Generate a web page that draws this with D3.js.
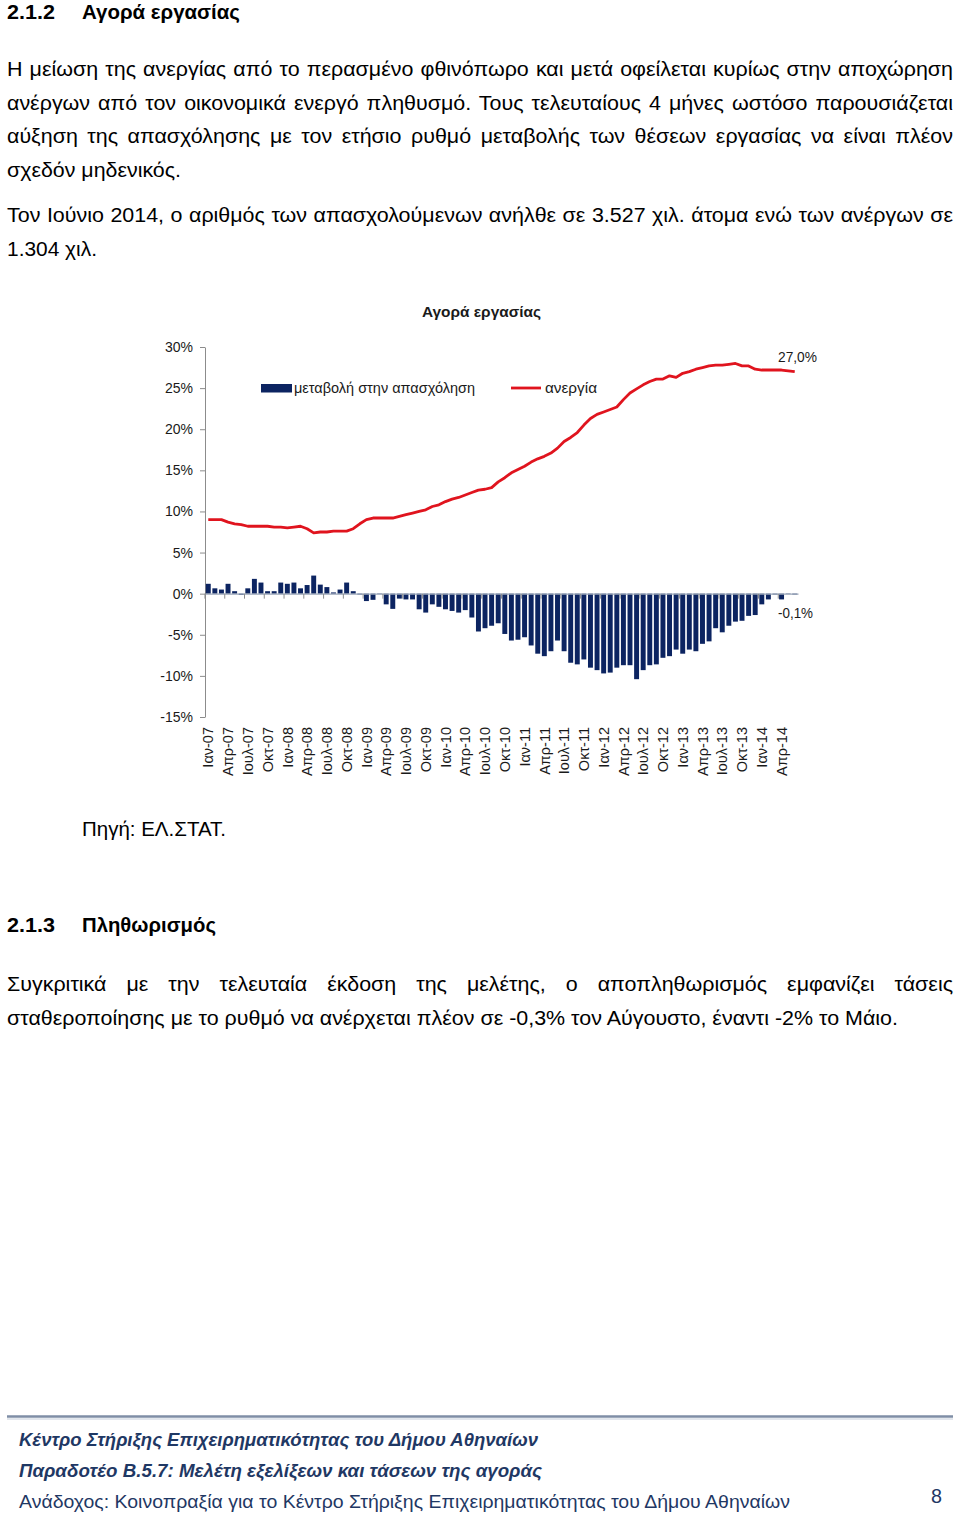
<!DOCTYPE html>
<html><head><meta charset="utf-8">
<script src="https://cdn.jsdelivr.net/npm/d3@7"></script>
<style>body{margin:0;background:#fff}svg{display:block}</style>
</head><body>
<script>
// ---------- DATA ----------
const monthNames = ["Ιαν","Φεβ","Μαρ","Απρ","Μαϊ","Ιουν","Ιουλ","Αυγ","Σεπ","Οκτ","Νοε","Δεκ"];
const years = ["07","08","09","10","11","12","13","14"];
const categories = years.flatMap(y => monthNames.map(m => m + "-" + y)).slice(0, 90); // Ιαν-07 .. Ιουν-14

// μεταβολή στην απασχόληση (% ετήσια)
const employment = [
  1.2, 0.65, 0.5, 1.2, 0.3, -0.15, 0.65, 1.8, 1.35, 0.3, 0.3, 1.35,
  1.2, 1.35, 0.65, 1.05, 2.2, 1.1, 0.8, 0.15, 0.5, 1.35, 0.3, -0.1,
  -0.9, -0.75, -0.05, -1.3, -1.85, -0.6, -0.7, -0.7, -1.9, -2.3, -1.3, -1.6,
  -1.9, -2.1, -2.3, -2.0, -2.9, -4.6, -4.2, -3.9, -3.6, -4.9, -5.7, -5.6,
  -5.3, -6.3, -7.3, -7.6, -7.0, -5.7, -7.0, -8.4, -8.6, -8.0, -9.0, -9.3,
  -9.7, -9.6, -9.0, -8.7, -8.7, -10.4, -9.3, -8.7, -8.6, -7.8, -7.6, -6.8,
  -7.3, -6.8, -7.0, -6.1, -5.8, -4.2, -4.7, -3.9, -3.4, -3.3, -2.7, -2.6,
  -1.3, -0.7, -0.1, -0.7, -0.05, -0.1
];
// ανεργία (%)
const unemployment = [
  9.0, 9.0, 9.0, 8.7, 8.5, 8.4, 8.2, 8.2, 8.2, 8.2, 8.1, 8.1,
  8.0, 8.1, 8.2, 7.9, 7.4, 7.5, 7.5, 7.6, 7.6, 7.6, 7.9, 8.5,
  9.0, 9.2, 9.2, 9.2, 9.2, 9.4, 9.6, 9.8, 10.0, 10.2, 10.6, 10.8,
  11.2, 11.5, 11.7, 12.0, 12.3, 12.6, 12.7, 12.9, 13.6, 14.1, 14.7, 15.1,
  15.5, 16.0, 16.4, 16.7, 17.1, 17.7, 18.5, 19.0, 19.6, 20.5, 21.3, 21.8,
  22.1, 22.4, 22.7, 23.6, 24.4, 24.9, 25.4, 25.8, 26.1, 26.1, 26.5, 26.3,
  26.8, 27.0, 27.3, 27.5, 27.7, 27.8, 27.8, 27.9, 28.0, 27.7, 27.7, 27.3,
  27.2, 27.2, 27.2, 27.2, 27.1, 27.0
];
const yTicks = [30, 25, 20, 15, 10, 5, 0, -5, -10, -15];
const xTickLabels = categories.filter((d, i) => i % 3 === 0);
const seriesNames = ["μεταβολή στην απασχόληση", "ανεργία"];
const chartTitle = "Αγορά εργασίας";
const lastLabels = ["27,0%", "-0,1%"];

// ---------- PAGE ----------
const W = 960, H = 1520;
const FONT = "'Liberation Sans', Arial, sans-serif";
const svg = d3.select("body").append("svg").attr("width", W).attr("height", H);

function txt(str, x, y, o = {}) {
  const t = svg.append("text").attr("x", x).attr("y", y).text(str)
    .style("font-family", FONT).style("font-size", (o.size || 19.5) + "px")
    .style("font-weight", o.weight || "normal").style("font-style", o.style || "normal")
    .attr("fill", o.fill || "#000");
  if (o.anchor) t.attr("text-anchor", o.anchor);
  if (o.justify) {
    const nat = t.node().getComputedTextLength();
    const spaces = (str.match(/ /g) || []).length;
    const c = o.c || 1;
    const ws = (o.width / c - nat) / spaces;
    if (ws > 0) t.style("word-spacing", ws + "px");
  }
  if (o.width) t.attr("textLength", o.width).attr("lengthAdjust", "spacingAndGlyphs");
  return t;
}

// condense factor from a reference (non-justified) line
const probe = svg.append("text").text("σταθεροποίησης με το ρυθμό να ανέρχεται πλέον σε -0,3% τον Αύγουστο, έναντι -2% το Μάιο.")
  .style("font-family", FONT).style("font-size", "19.5px");
const C = 891 / probe.node().getComputedTextLength();
probe.remove();

// Heading 2.1.2
txt("2.1.2", 7, 18.5, {size: 20.5, weight: "bold", width: 48});
txt("Αγορά εργασίας", 82, 18.5, {size: 20.5, weight: "bold", width: 158});

const para1 = [
  "Η μείωση της ανεργίας από το περασμένο φθινόπωρο και μετά οφείλεται κυρίως στην αποχώρηση",
  "ανέργων από τον οικονομικά ενεργό πληθυσμό. Τους τελευταίους 4 μήνες ωστόσο παρουσιάζεται",
  "αύξηση της απασχόλησης με τον ετήσιο ρυθμό μεταβολής των θέσεων εργασίας να είναι πλέον"
];
const para1Y = [76, 110, 143];
para1.forEach((s, i) => txt(s, 7, para1Y[i], {width: 946, justify: true, c: C}));
txt("σχεδόν μηδενικός.", 7, 177, {width: 174});
txt("Τον Ιούνιο 2014, ο αριθμός των απασχολούμενων ανήλθε σε 3.527 χιλ. άτομα ενώ των ανέργων σε", 7, 222, {width: 946, justify: true, c: C});
txt("1.304 χιλ.", 7, 256, {width: 90});

// ---------- CHART ----------
const x = d3.scaleBand().domain(categories).range([205, 798]).paddingInner(0.25).paddingOuter(0.12);
const y = d3.scaleLinear().domain([-15, 30]).range([717, 347]);
const cx = c => x(c) + x.bandwidth() / 2;
const AX = "#8c8c8c";
const TXT = "#1a1a1a";
const CH = 14;

// chart title
txt(chartTitle, 481.5, 317, {size: 15.5, weight: "bold", fill: TXT, anchor: "middle", width: 119});

// y axis
const yAxis = svg.append("g").attr("transform", "translate(205,0)")
  .call(d3.axisLeft(y).tickValues(yTicks).tickFormat(d => d + "%").tickSize(5).tickSizeOuter(0).tickPadding(7));
yAxis.select(".domain").attr("stroke", AX);
yAxis.selectAll(".tick line").attr("stroke", AX);
yAxis.selectAll(".tick text").style("font-family", FONT).style("font-size", CH + "px").attr("fill", TXT);

// bars
svg.append("g").selectAll("rect").data(employment).join("rect")
  .attr("x", (d, i) => x(categories[i]))
  .attr("width", x.bandwidth())
  .attr("y", d => Math.min(y(d), y(0)))
  .attr("height", d => Math.abs(y(d) - y(0)))
  .attr("fill", "#0c2461");

// x axis at zero
const step = x.step();
const xAxis = svg.append("g").attr("transform", `translate(0,${y(0)})`)
  .call(d3.axisBottom(x).tickValues(xTickLabels).tickSize(0).tickSizeOuter(0));
xAxis.select(".domain").attr("stroke", "#9aa6b8").attr("stroke-width", 1.3);
xAxis.selectAll(".tick text")
  .attr("x", 0).attr("y", 0).attr("dy", "0.36em")
  .attr("transform", `translate(0,${727 - y(0)}) rotate(-90)`)
  .style("text-anchor", "end").style("font-family", FONT).style("font-size", "14.5px").attr("fill", TXT);
// tick marks between categories every 3 months
xAxis.selectAll(".tick").append("line")
  .attr("x1", -x.bandwidth() / 2 - (step - x.bandwidth()) / 2)
  .attr("x2", -x.bandwidth() / 2 - (step - x.bandwidth()) / 2)
  .attr("y1", 0).attr("y2", 5).attr("stroke", AX);

// unemployment line
const line = d3.line().x((d, i) => cx(categories[i])).y(d => y(d));
svg.append("path").datum(unemployment).attr("d", line)
  .attr("fill", "none").attr("stroke", "#e0141e").attr("stroke-width", 2.8).attr("stroke-linejoin", "round");

// last data labels
txt(lastLabels[0], 778, 362, {size: CH, fill: TXT, width: 39});
txt(lastLabels[1], 778, 618, {size: CH, fill: TXT, width: 35});

// legend
svg.append("rect").attr("x", 261).attr("y", 384).attr("width", 31).attr("height", 8.5).attr("fill", "#0c2461");
txt(seriesNames[0], 294, 393, {size: 14.5, fill: TXT, width: 181});
svg.append("line").attr("x1", 511).attr("x2", 541).attr("y1", 388).attr("y2", 388)
  .attr("stroke", "#e0141e").attr("stroke-width", 2.8);
txt(seriesNames[1], 545, 393, {size: 14.5, fill: TXT, width: 52});

// ---------- AFTER CHART ----------
txt("Πηγή: ΕΛ.ΣΤΑΤ.", 82, 836, {width: 144});
txt("2.1.3", 7, 932, {size: 20.5, weight: "bold", width: 48});
txt("Πληθωρισμός", 82, 932, {size: 20.5, weight: "bold", width: 134});
txt("Συγκριτικά με την τελευταία έκδοση της μελέτης, ο αποπληθωρισμός εμφανίζει τάσεις", 7, 991, {width: 946, justify: true, c: C});
txt("σταθεροποίησης με το ρυθμό να ανέρχεται πλέον σε -0,3% τον Αύγουστο, έναντι -2% το Μάιο.", 7, 1025, {width: 891});

// footer
svg.append("line").attr("x1", 7).attr("x2", 953).attr("y1", 1416.5).attr("y2", 1416.5).attr("stroke", "#7f8ea6").attr("stroke-width", 2.5);
svg.append("line").attr("x1", 7).attr("x2", 953).attr("y1", 1419).attr("y2", 1419).attr("stroke", "#c5cedb").attr("stroke-width", 1);
const NAVY = "#1f3864";
txt("Κέντρο Στήριξης Επιχειρηματικότητας του Δήμου Αθηναίων", 19, 1446, {size: 18.5, weight: "bold", style: "italic", fill: NAVY, width: 519});
txt("Παραδοτέο Β.5.7: Μελέτη εξελίξεων και τάσεων της αγοράς", 19, 1477, {size: 18.5, weight: "bold", style: "italic", fill: NAVY, width: 523});
txt("Ανάδοχος: Κοινοπραξία για το Κέντρο Στήριξης Επιχειρηματικότητας του Δήμου Αθηναίων", 19, 1508, {size: 18.5, fill: NAVY, width: 771});
txt("8", 931, 1503, {size: 19.5, fill: NAVY, width: 11});
</script>
</body></html>
